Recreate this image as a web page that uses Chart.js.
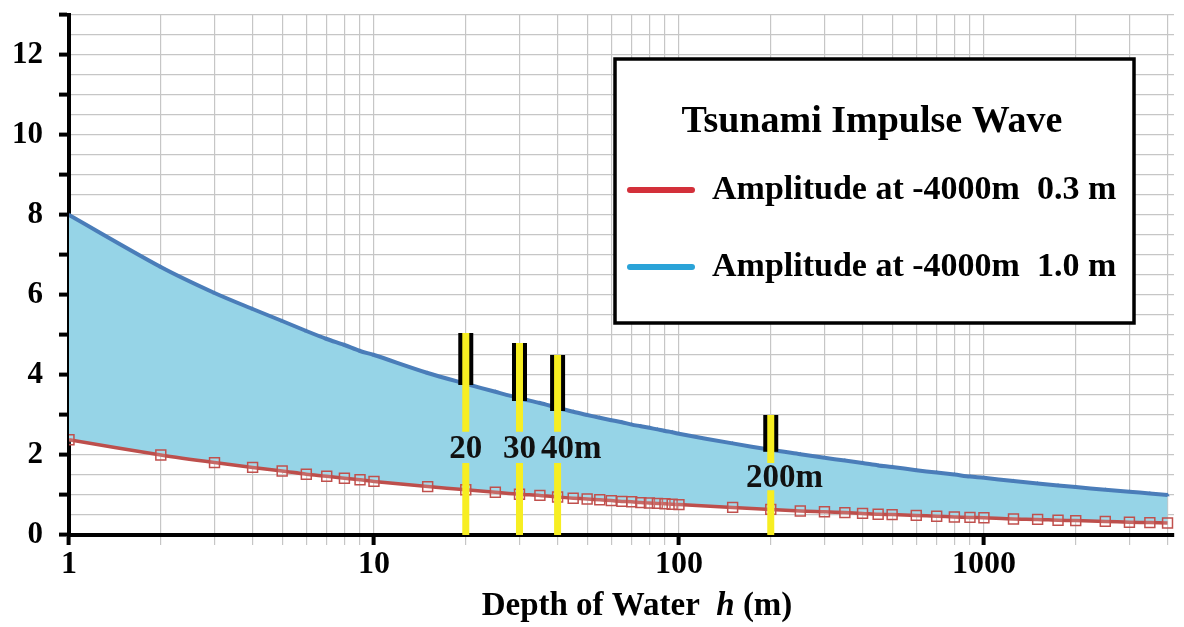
<!DOCTYPE html>
<html>
<head>
<meta charset="utf-8">
<script src="https://cdn.jsdelivr.net/npm/chart.js"></script>
<style>
  body { margin: 0; background: #fff; }
  #wrap { width: 1184px; height: 627px; position: relative; }
</style>
</head>
<body>
<div id="wrap"><canvas id="chart"></canvas></div>
<script>
// depth of water h (m)
const depth = [1, 2, 3, 4, 5, 6, 7, 8, 9, 10, 15, 20, 25, 30, 35, 40, 45, 50, 55, 60, 65, 70, 75, 80, 85, 90, 95, 100,
    150, 200, 250, 300, 350, 400, 450, 500, 600, 700, 800, 900, 1000, 1250, 1500, 1750, 2000, 2500, 3000, 3500, 4000];

// amplitude (m), 1.0 m at -4000m
const ampHigh = [8.0, 6.7, 6.05, 5.65, 5.35, 5.1, 4.9, 4.75, 4.6, 4.5, 4.05, 3.78, 3.58, 3.42, 3.3, 3.18, 3.08, 3.0, 2.93, 2.87, 2.82, 2.76, 2.72, 2.68, 2.64, 2.6, 2.57, 2.53,
    2.29, 2.13, 2.02, 1.93, 1.86, 1.8, 1.74, 1.7, 1.62, 1.56, 1.51, 1.46, 1.43, 1.35, 1.29, 1.24, 1.2, 1.13, 1.08, 1.04, 1.0];

// amplitude (m), 0.3 m at -4000m
const ampLow = [2.38, 2.0, 1.81, 1.69, 1.6, 1.52, 1.47, 1.42, 1.38, 1.34, 1.21, 1.13, 1.07, 1.02, 0.99, 0.95, 0.92, 0.9, 0.88, 0.86, 0.84, 0.83, 0.81, 0.8, 0.79, 0.78, 0.77, 0.76,
    0.69, 0.64, 0.6, 0.58, 0.56, 0.54, 0.52, 0.51, 0.49, 0.47, 0.45, 0.44, 0.43, 0.4, 0.39, 0.37, 0.36, 0.34, 0.32, 0.31, 0.3];

// highlighted depths
const markDepth = [20, 30, 40, 200];
const markTop = [5.05, 4.8, 4.5, 3.0];
const markBlackBottom = [3.75, 3.35, 3.1, 2.08];
const gapTop = [2.58, 2.58, 2.58, 1.8];
const gapBottom = [1.8, 1.8, 1.8, 1.12];
const markLabel = ["20", "30", "40m", "200m"];
const markLabelY = [2.15, 2.15, 2.15, 1.42];

const xTicks = [1, 2, 3, 4, 5, 6, 7, 8, 9, 10, 20, 30, 40, 50, 60, 70, 80, 90, 100,
    200, 300, 400, 500, 600, 700, 800, 900, 1000, 2000, 3000, 4000];
const xLabels = [1, 10, 100, 1000];

const legendTitle = "Tsunami Impulse Wave";
const legendNames = ["Amplitude at -4000m  0.3 m", "Amplitude at -4000m  1.0 m"];
const legendColors = ["#d3303a", "#2aa3d8"];

const serif = "'Liberation Serif', 'Times New Roman', serif";

const datasets = [];

markDepth.forEach((h, i) => {
    datasets.push({
        data: [{ x: h, y: 0 }, { x: h, y: gapBottom[i] }, { x: h, y: null }, { x: h, y: gapTop[i] }, { x: h, y: markTop[i] }],
        borderColor: "#f7ee22",
        borderWidth: 7,
        borderCapStyle: "butt",
        pointRadius: 0,
        spanGaps: false,
        order: 0
    });
    datasets.push({
        data: [{ x: h, y: markBlackBottom[i] }, { x: h, y: markTop[i] }],
        borderColor: "#000",
        borderWidth: 15,
        borderCapStyle: "butt",
        pointRadius: 0,
        order: 1
    });
});

const lowIndex = datasets.length;
datasets.push({
    data: depth.map((h, i) => ({ x: h, y: ampLow[i] })),
    borderColor: "#bd4f4c",
    borderWidth: 3.5,
    pointStyle: "rect",
    pointRadius: 7,
    pointBorderWidth: 1.5,
    pointBorderColor: "#c0504d",
    pointBackgroundColor: "rgba(255,255,255,0.15)",
    tension: 0.3,
    order: 2
});
datasets.push({
    data: depth.map((h, i) => ({ x: h, y: ampHigh[i] })),
    borderColor: "#4a7db9",
    borderWidth: 4,
    pointStyle: "triangle",
    pointRadius: 2.5,
    pointBorderWidth: 0,
    pointBackgroundColor: "#4a7db9",
    backgroundColor: "#96d4e7",
    fill: { target: lowIndex },
    tension: 0.3,
    order: 3
});

const overlay = {
    id: "overlay",
    afterDatasetsDraw(chart) {
        const { ctx, scales } = chart;
        ctx.save();
        ctx.fillStyle = "#111";
        ctx.font = "bold 33px " + serif;
        ctx.textBaseline = "middle";
        ctx.textAlign = "left";
        markLabel.forEach((txt, i) => {
            const num = txt.replace("m", "");
            const w = ctx.measureText(num).width;
            const px = scales.x.getPixelForValue(markDepth[i]);
            ctx.fillText(txt, px - w / 2, scales.y.getPixelForValue(markLabelY[i]));
        });
        ctx.restore();
    },
    afterDraw(chart) {
        const { ctx } = chart;
        ctx.save();
        // legend box
        ctx.fillStyle = "#fff";
        ctx.fillRect(615, 59, 519, 264);
        ctx.lineWidth = 3.5;
        ctx.strokeStyle = "#000";
        ctx.strokeRect(615, 59, 519, 264);
        ctx.fillStyle = "#000";
        ctx.textBaseline = "middle";
        ctx.textAlign = "center";
        ctx.font = "bold 38px " + serif;
        ctx.fillText(legendTitle, 872, 122);
        ctx.textAlign = "left";
        ctx.font = "bold 34px " + serif;
        legendNames.forEach((name, i) => {
            const y = 190 + i * 77;
            ctx.strokeStyle = legendColors[i];
            ctx.lineWidth = 6;
            ctx.lineCap = "round";
            ctx.beginPath();
            ctx.moveTo(630, y);
            ctx.lineTo(692, y);
            ctx.stroke();
            ctx.fillText(name, 712, y);
        });
        // x-axis title with italic h
        const fs = 33;
        const p1 = "Depth of Water  ", p3 = " (m)";
        ctx.font = "bold " + fs + "px " + serif;
        const w1 = ctx.measureText(p1).width, w3 = ctx.measureText(p3).width;
        ctx.font = "italic bold " + fs + "px " + serif;
        const w2 = ctx.measureText("h").width;
        const x0 = 637 - (w1 + w2 + w3) / 2;
        const ty = 606;
        ctx.font = "bold " + fs + "px " + serif;
        ctx.fillText(p1, x0, ty);
        ctx.font = "italic bold " + fs + "px " + serif;
        ctx.fillText("h", x0 + w1, ty);
        ctx.font = "bold " + fs + "px " + serif;
        ctx.fillText(p3, x0 + w1 + w2, ty);
        ctx.restore();
    }
};

new Chart(document.getElementById("chart"), {
    type: "line",
    data: { datasets },
    options: {
        responsive: true,
        maintainAspectRatio: false,
        animation: false,
        layout: { padding: { top: 15, right: 10, left: 0, bottom: 0 } },
        plugins: { legend: { display: false }, tooltip: { enabled: false } },
        scales: {
            x: {
                type: "logarithmic",
                min: 1,
                max: 4200,
                afterBuildTicks(scale) {
                    scale.ticks = xTicks.map(v => ({ value: v }));
                },
                afterFit(scale) { scale.height = 92; },
                ticks: {
                    autoSkip: false,
                    maxRotation: 0,
                    padding: 1,
                    color: "#000",
                    font: { family: serif, weight: "bold", size: 32 },
                    callback: (v) => xLabels.includes(v) ? String(v) : ""
                },
                grid: {
                    color: "#c6c6c6",
                    lineWidth: 1.2,
                    tickLength: 10,
                    tickColor: (c) => xLabels.includes(c.tick && c.tick.value) ? "#000" : "#c6c6c6",
                    tickWidth: (c) => xLabels.includes(c.tick && c.tick.value) ? 4 : 1.2
                },
                border: { color: "#000", width: 4 }
            },
            y: {
                type: "linear",
                min: 0,
                max: 13,
                afterFit(scale) {
                    scale.width = 69;
                    scale.paddingTop = 0;
                    scale.paddingBottom = 0;
                },
                ticks: {
                    stepSize: 0.5,
                    autoSkip: false,
                    padding: 16,
                    color: "#000",
                    font: { family: serif, weight: "bold", size: 31 },
                    callback: (v) => (v % 2 === 0 ? String(v) : "")
                },
                grid: {
                    color: "#c6c6c6",
                    lineWidth: 1.2,
                    tickLength: 10,
                    tickColor: (c) => (c.tick && c.tick.value % 1 === 0) ? "#000" : "rgba(0,0,0,0)",
                    tickWidth: 4
                },
                border: { color: "#000", width: 4 }
            }
        }
    },
    plugins: [overlay]
});
</script>
</body>
</html>
